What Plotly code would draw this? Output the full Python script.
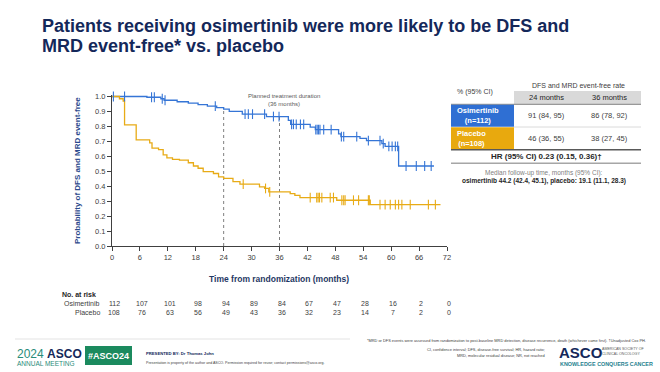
import plotly.graph_objects as go

# ---------------- data ----------------
osi_t = [0, 7.5, 10.5, 11.2, 14.0, 16.4, 18.5, 20.5, 22.5, 24.0, 25.2, 28.0, 33.2, 37.9, 38.4,
         42.6, 43.7, 48.7, 49.2, 53.3, 54.7, 58.0, 58.7, 61.6, 69.2]
osi_s = [1.0, 0.995, 0.985, 0.975, 0.965, 0.955, 0.945, 0.935, 0.925, 0.915, 0.90, 0.882, 0.866, 0.84, 0.814,
         0.795, 0.778, 0.75, 0.732, 0.72, 0.705, 0.685, 0.666, 0.535, 0.535]
osi_cens = [0.3, 2.7, 8.5, 9.1, 10.8, 11.4, 22.2, 28.6, 29.3, 30.2, 32.8, 34.7, 35.9, 38.6, 39.0, 39.6,
            40.5, 41.2, 43.8, 44.1, 44.4, 44.7, 45.5, 47.1, 49.3, 49.8, 52.6, 55.1, 57.6, 58.3, 59.5,
            60.2, 60.9, 61.4, 63.2, 65.4, 67.2, 68.6]

pla_t = [0, 1.6, 2.4, 2.7, 5.2, 8.1, 8.6, 10.0, 11.0, 11.8, 13.0, 14.5, 16.4, 17.5, 18.5, 19.6, 21.8,
         22.9, 24.0, 26.0, 27.5, 31.7, 32.8, 33.7, 38.3, 39.3, 40.4, 48.3, 55.5, 70.6]
pla_s = [1.0, 0.985, 0.97, 0.81, 0.71, 0.69, 0.655, 0.645, 0.61, 0.59, 0.58, 0.575, 0.557, 0.535, 0.52,
         0.497, 0.485, 0.463, 0.452, 0.43, 0.414, 0.396, 0.385, 0.362, 0.35, 0.338, 0.324, 0.306, 0.277, 0.277]
pla_cens = [28.2, 33.0, 33.9, 42.6, 44.0, 44.3, 44.6, 45.1, 46.9, 47.6, 49.4, 49.8, 50.1, 51.9, 53.0,
            55.1, 55.3, 57.6, 58.7, 59.8, 60.9, 61.6, 62.3, 64.1, 68.0, 69.5]

risk_months = [0, 6, 12, 18, 24, 30, 36, 42, 48, 54, 60, 66, 72]
risk_osi = [112, 107, 101, 98, 94, 89, 84, 67, 47, 28, 16, 2, 0]
risk_pla = [108, 76, 63, 56, 49, 43, 36, 32, 23, 14, 7, 2, 0]

x_ticks = [0, 6, 12, 18, 24, 30, 36, 42, 48, 54, 60, 66, 72]
y_ticks = [0.0, 0.1, 0.2, 0.3, 0.4, 0.5, 0.6, 0.7, 0.8, 0.9, 1.0]
y_ticktext = ["0.0", "0.1", "0.2", "0.3", "0.4", "0.5", "0.6", "0.7", "0.8", "0.9", "1.0"]

table_cols = ["24 months", "36 months"]
table_osi = ["91 (84, 95)", "86 (78, 92)"]
table_pla = ["46 (36, 55)", "38 (27, 45)"]

# ---------------- styling ----------------
BLUE = "#3575d6"
GOLD = "#e8ab16"
NAVY = "#14285a"
FONT = "Liberation Sans, Arial, sans-serif"

W, H = 660, 372
ML, MR, MT, MB = 112, 213, 95, 126
PW, PH = W - ML - MR, H - MT - MB


def xp(px):
    return (px - ML) / PW


def yp(py):
    return (H - MB - py) / PH


def step_at(ts, ss, t):
    v = ss[0]
    for ti, si in zip(ts, ss):
        if ti <= t:
            v = si
    return v


fig = go.Figure()

fig.add_trace(go.Scatter(x=osi_t, y=osi_s, mode="lines", line=dict(color=BLUE, width=1.3, shape="hv"),
                         showlegend=False, hoverinfo="skip"))
fig.add_trace(go.Scatter(x=pla_t, y=pla_s, mode="lines", line=dict(color=GOLD, width=1.3, shape="hv"),
                         showlegend=False, hoverinfo="skip"))
fig.add_trace(go.Scatter(x=osi_cens, y=[step_at(osi_t, osi_s, t) for t in osi_cens], mode="markers",
                         marker=dict(symbol="line-ns", size=7, line=dict(color=BLUE, width=1.1)),
                         cliponaxis=False, showlegend=False, hoverinfo="skip"))
fig.add_trace(go.Scatter(x=pla_cens, y=[step_at(pla_t, pla_s, t) for t in pla_cens], mode="markers",
                         marker=dict(symbol="line-ns", size=7, line=dict(color=GOLD, width=1.1)),
                         cliponaxis=False, showlegend=False, hoverinfo="skip"))

shapes = []
# planned duration lines
shapes.append(dict(type="line", xref="x", yref="y", x0=24, x1=24, y0=0, y1=step_at(osi_t, osi_s, 24),
                   line=dict(color="#7f7f7f", width=1, dash="dot"), layer="below"))
shapes.append(dict(type="line", xref="x", yref="y", x0=36, x1=36, y0=0, y1=step_at(osi_t, osi_s, 36),
                   line=dict(color="#7f7f7f", width=1, dash="dot"), layer="below"))

ann = []


def text(px, py, t, size, color="#404040", anchor="center", bold=False, **kw):
    if bold:
        t = "<b>" + t + "</b>"
    ann.append(dict(xref="paper", yref="paper", x=xp(px), y=yp(py), text=t, showarrow=False,
                    xanchor=anchor, yanchor="middle", font=dict(family=FONT, size=size, color=color), **kw))


def rect(x0, y0, x1, y1, fill, line=None):
    shapes.append(dict(type="rect", xref="paper", yref="paper", x0=xp(x0), x1=xp(x1), y0=yp(y0), y1=yp(y1),
                       fillcolor=fill, line=dict(width=0) if line is None else line, layer="above"))


def hline(x0, x1, y, color, width=1):
    shapes.append(dict(type="line", xref="paper", yref="paper", x0=xp(x0), x1=xp(x1), y0=yp(y), y1=yp(y),
                       line=dict(color=color, width=width)))


# title
text(40, 26, "Patients receiving osimertinib were more likely to be DFS and", 18, NAVY, "left", True)
text(40, 46, "MRD event-free* vs. placebo", 18, NAVY, "left", True)

# axis titles
text(77, 171, "Probability of DFS and MRD event-free", 8, "#2c4a8c", "center", True, textangle=-90)
text(279, 279, "Time from randomization (months)", 8.5, "#1f3864", "center", True)

# planned duration label
ann.append(dict(xref="x", yref="paper", x=37, y=yp(96), text="Planned treatment duration", showarrow=False,
                font=dict(family=FONT, size=6, color="#595959"), xanchor="center", yanchor="middle"))
ann.append(dict(xref="x", yref="paper", x=37, y=yp(103.5), text="(36 months)", showarrow=False,
                font=dict(family=FONT, size=6, color="#595959"), xanchor="center", yanchor="middle"))

# number at risk
text(60, 294, "No. at risk", 7, "#262626", "left", True)
text(102, 303, "Osimertinib", 7, "#404040", "right")
text(102, 312, "Placebo", 7, "#404040", "right")
for m, a, b in zip(risk_months, risk_osi, risk_pla):
    ann.append(dict(xref="x", yref="paper", x=m, xshift=2, y=yp(303), text=str(a), showarrow=False,
                    font=dict(family=FONT, size=7, color="#404040"), xanchor="center", yanchor="middle"))
    ann.append(dict(xref="x", yref="paper", x=m, xshift=2, y=yp(312), text=str(b), showarrow=False,
                    font=dict(family=FONT, size=7, color="#404040"), xanchor="center", yanchor="middle"))

# table
text(578, 85, "DFS and MRD event-free rate", 7, "#404040")
text(475, 92, "% (95% CI)", 7, "#404040")
rect(514, 91, 641, 104, "#d9d9d9")
text(546, 97.5, table_cols[0], 7.5, "#262626")
text(609, 97.5, table_cols[1], 7.5, "#262626")
hline(451, 641, 104.3, "#808080", 1)
rect(451, 104.8, 514, 126.7, "#2f6fd3")
text(455, 115.5, "Osimertinib<br>(n=112)", 7.5, "white", "left", True)
text(546, 115.5, table_osi[0], 7.5, "#404040")
text(609, 115.5, table_osi[1], 7.5, "#404040")
hline(514, 641, 127, "#d0d0d0", 0.8)
rect(451, 127.3, 514, 149, "#e8a90e")
text(455, 138, "Placebo<br>(n=108)", 7.5, "white", "left", True)
text(546, 138, table_pla[0], 7.5, "#404040")
text(609, 138, table_pla[1], 7.5, "#404040")
hline(451, 641, 149.8, "#595959", 1.5)
text(546, 156.5, "HR (95% CI) 0.23 (0.15, 0.36)†", 8, "#262626", "center", True)
hline(451, 641, 163.3, "#a6a6a6", 1.5)
text(544, 173, "Median follow-up time, months (95% CI):", 6.5, "#7f7f7f")
text(544, 180.5, "osimertinib 44.2 (42.4, 45.1), placebo: 19.1 (11.1, 28.3)", 6.5, "#262626", "center", True)

# footer
hline(15, 350, 339, "#e3e3e3", 1)
text(15, 354, "<span style='color:#2a8c7a'>2024</span> <b>ASCO</b>", 12, NAVY, "left")
text(15, 363, "ANNUAL MEETING", 6.5, "#2a8c7a", "left")
rect(85, 346, 132, 365, "#1b8a5e")
text(108.5, 355.5, "#ASCO24", 9, "white", "center", True)
text(144, 353, "PRESENTED BY: Dr Thomas John", 4.2, NAVY, "left", True)
text(144, 362.5, "Presentation is property of the author and ASCO. Permission required for reuse; contact permissions@asco.org.",
     3.6, "#404040", "left")
text(648, 340, "*MRD or DFS events were assessed from randomization to post-baseline MRD detection, disease recurrence, "
               "death (whichever came first). †Unadjusted Cox PH.", 3.9, "#404040", "right")
text(547, 349, "CI, confidence interval; DFS, disease-free survival; HR, hazard ratio;", 3.9, "#404040", "right")
text(547, 355, "MRD, molecular residual disease; NR, not reached", 3.9, "#404040", "right")
text(557, 352, "<b>ASCO</b>", 15, NAVY, "left")
text(600, 349, "AMERICAN SOCIETY OF", 3.6, "#595959", "left")
text(600, 354, "CLINICAL ONCOLOGY", 3.6, "#595959", "left")
text(558, 363.5, "KNOWLEDGE CONQUERS CANCER", 5.4, "#1f7f8f", "left", True)

fig.update_layout(
    width=W, height=H,
    margin=dict(l=ML, r=MR, t=MT, b=MB, autoexpand=False),
    paper_bgcolor="white", plot_bgcolor="white",
    font=dict(family=FONT, size=8, color="#404040"),
    shapes=shapes, annotations=ann,
    xaxis=dict(range=[0, 72], tickvals=x_ticks, ticks="outside", ticklen=4, tickcolor="#404040",
               showline=True, linecolor="#404040", linewidth=1, showgrid=False, zeroline=False,
               tickfont=dict(size=7.5, color="#404040")),
    yaxis=dict(range=[0, 1.01], tickvals=y_ticks, ticktext=y_ticktext, ticks="outside", ticklen=4,
               tickcolor="#404040", showline=True, linecolor="#404040", linewidth=1, showgrid=False,
               zeroline=False, tickfont=dict(size=7.5, color="#404040")),
)

fig.write_html("out.html", config={"displayModeBar": False},
               post_script="document.body.style.margin='0';document.body.style.overflow='hidden';")
